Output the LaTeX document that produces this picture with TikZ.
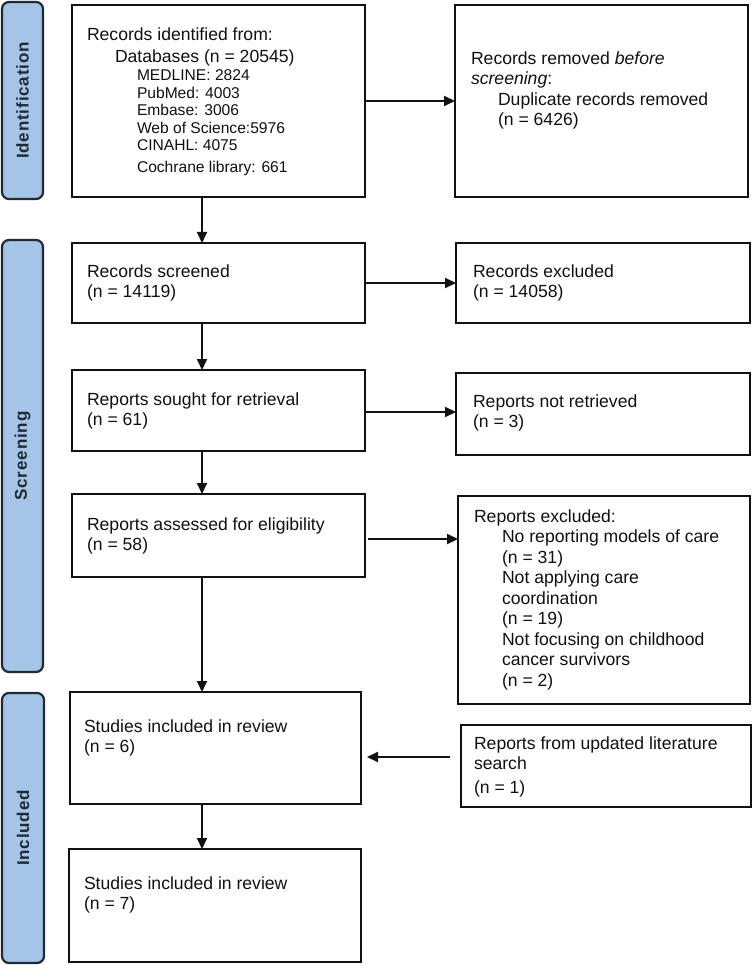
\documentclass[tikz,border=0pt]{standalone}
\usepackage{fontspec}
\setmainfont{Liberation Sans}
\newfontfamily\lblfont[LetterSpace=5]{Liberation Sans}
\usetikzlibrary{arrows.meta}
\definecolor{lblfill}{HTML}{A4C4E8}
\definecolor{lbldraw}{HTML}{1F2A35}
\definecolor{ink}{HTML}{111111}
\tikzset{
  box/.style={draw=ink, line width=2pt, rectangle, inner sep=0pt, outer sep=0pt},
  phase/.style={draw=lbldraw, fill=lblfill, line width=2.2pt, rounded corners=7pt, rectangle,
    inner sep=0pt, outer sep=0pt, rotate=90, text=lbldraw,
    font=\lblfont\bfseries\fontsize{17}{20}\selectfont},
  txt/.style={anchor=base west, inner sep=0pt, outer sep=0pt, align=left, text=ink,
    font=\fontsize{17.6}{20.5}\selectfont},
  subtxt/.style={anchor=base west, inner sep=0pt, outer sep=0pt, align=left, text=ink,
    font=\fontsize{15.6}{17.5}\selectfont},
  arr/.style={draw=ink, line width=2pt, -{Triangle[width=10pt,length=11pt]}}
}
\begin{document}
\begin{tikzpicture}[x=1pt,y=-1pt]
\useasboundingbox[fill=white] (0,0) rectangle (753,965);

% phase labels
\node[phase, minimum width=197pt, minimum height=41pt] (L1) at (22.5,100.5) {Identification};
\node[phase, minimum width=432pt, minimum height=41pt] (L2) at (22.5,456) {Screening};
\node[phase, minimum width=270pt, minimum height=42pt] (L3) at (23,828) {Included};

% boxes
\node[box, minimum width=293pt, minimum height=192pt] (b1) at (218.5,101) {};
\node[box, minimum width=293pt, minimum height=192pt] (b2) at (601.5,101) {};
\node[box, minimum width=293pt, minimum height=80pt] (b3) at (218.5,283) {};
\node[box, minimum width=294pt, minimum height=80pt] (b4) at (603,283) {};
\node[box, minimum width=293pt, minimum height=81pt] (b5) at (218.5,410.5) {};
\node[box, minimum width=294pt, minimum height=82pt] (b6) at (603,414) {};
\node[box, minimum width=293pt, minimum height=83pt] (b7) at (218.5,535.5) {};
\node[box, minimum width=292pt, minimum height=208pt] (b8) at (604,600) {};
\node[box, minimum width=291pt, minimum height=112pt] (b9) at (215.5,748) {};
\node[box, minimum width=290pt, minimum height=82pt] (b10) at (606,766) {};
\node[box, minimum width=292pt, minimum height=113pt] (b11) at (215,905.5) {};

% texts (anchored at the baseline of their last line)
\node[txt] (t1) at (87,63) {Records identified from:\\[1.5pt]\hspace*{28pt}Databases (n = 20545)};
\node[subtxt] (t1s) at (137,172.5) {MEDLINE: 2824\\PubMed: 4003\\Embase: 3006\\Web of Science:5976\\CINAHL: 4075\\[4pt]Cochrane library: 661};
\node[txt] (t2) at (471,126) {Records removed \textit{before}\\\textit{screening}:\\\hspace*{27pt}Duplicate records removed\\\hspace*{27pt}(n = 6426)};
\node[txt] (t3) at (87,297.5) {Records screened\\(n = 14119)};
\node[txt] (t4) at (473,297.5) {Records excluded\\(n = 14058)};
\node[txt] (t5) at (87,425.5) {Reports sought for retrieval\\(n = 61)};
\node[txt] (t6) at (473,427.5) {Reports not retrieved\\(n = 3)};
\node[txt] (t7) at (87,550.5) {Reports assessed for eligibility\\(n = 58)};
\node[txt] (t8) at (474,686) {Reports excluded:\\\hspace*{28pt}No reporting models of care\\\hspace*{28pt}(n = 31)\\\hspace*{28pt}Not applying care\\\hspace*{28pt}coordination\\\hspace*{28pt}(n = 19)\\\hspace*{28pt}Not focusing on childhood\\\hspace*{28pt}cancer survivors\\\hspace*{28pt}(n = 2)};
\node[txt] (t9) at (84,752.5) {Studies included in review\\(n = 6)};
\node[txt] (t10) at (474,793) {Reports from updated literature\\search\\[3pt](n = 1)};
\node[txt] (t11) at (84,909.5) {Studies included in review\\(n = 7)};

% connectors
\coordinate (vx) at (202,0);
\coordinate (h5) at (0,412);
\coordinate (h7) at (0,539);
\coordinate (h9) at (0,757);
\draw[arr] (b1.south -| vx) -- (b3.north -| vx);
\draw[arr] (b1.east) -- (b2.west);
\draw[arr] (b3.east) -- (b4.west);
\draw[arr] (b3.south -| vx) -- (b5.north -| vx);
\draw[arr] (b5.east |- h5) -- (b6.west |- h5);
\draw[arr] (b5.south -| vx) -- (b7.north -| vx);
\draw[arr, shorten <=3pt] (b7.east |- h7) -- (b8.west |- h7);
\draw[arr] (b7.south -| vx) -- (b9.north -| vx);
\draw[arr, shorten <=11pt, shorten >=6pt] (b10.west |- h9) -- (b9.east |- h9);
\draw[arr] (b9.south -| vx) -- (b11.north -| vx);
\end{tikzpicture}
\end{document}
